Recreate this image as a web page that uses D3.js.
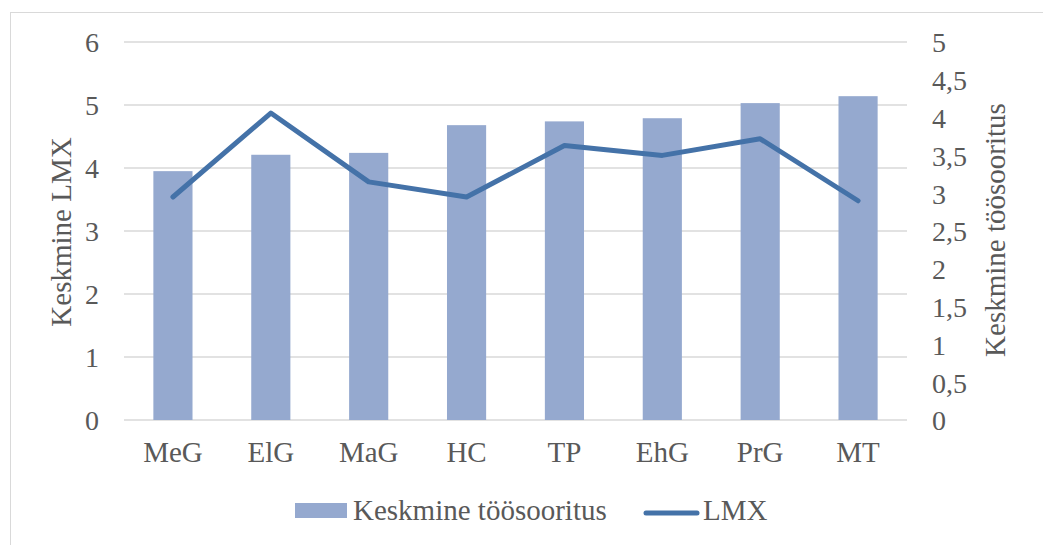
<!DOCTYPE html>
<html>
<head>
<meta charset="utf-8">
<script src="https://cdn.jsdelivr.net/npm/d3@7"></script>
<style>
  body { margin: 0; background: #fff; }
</style>
</head>
<body>
<div id="chart"></div>
<script>
'use strict';

var categories = ['MeG', 'ElG', 'MaG', 'HC', 'TP', 'EhG', 'PrG', 'MT'];
var performance = [3.95, 4.21, 4.24, 4.68, 4.74, 4.79, 5.03, 5.14];   // bars, left axis
var lmx = [2.95, 4.06, 3.15, 2.95, 3.63, 3.50, 3.72, 2.90];          // line, right axis
var leftTicks = [0, 1, 2, 3, 4, 5, 6];
var rightTicks = [0, 0.5, 1, 1.5, 2, 2.5, 3, 3.5, 4, 4.5, 5];

var FONT = '"Liberation Serif", "Times New Roman", serif';
var TEXT_COLOR = '#595959';

var width = 1043, height = 545;
var margin = {top: 42, right: 136, bottom: 125, left: 124};

var svg = d3.select('#chart').append('svg')
    .attr('width', width)
    .attr('height', height);

// chart area border
svg.append('rect')
  .attr('x', 10.5).attr('y', 12.5)
  .attr('width', width + 20).attr('height', height + 20)
  .attr('fill', 'none')
  .attr('stroke', '#d9d9d9')
  .attr('stroke-width', 1);

var x = d3.scaleBand()
  .domain(categories)
  .range([margin.left, width - margin.right])
  .paddingInner(0.6)
  .paddingOuter(0.3);

var yLeft = d3.scaleLinear().domain([0, 6]).range([height - margin.bottom, margin.top]);
var yRight = d3.scaleLinear().domain([0, 5]).range([height - margin.bottom, margin.top]);

var x0 = x.range()[0], x1 = x.range()[1];

// gridlines
svg.append('g')
  .selectAll('line')
  .data(leftTicks)
  .enter()
  .append('line')
  .attr('x1', x0).attr('x2', x1)
  .attr('y1', function(d) { return yLeft(d); })
  .attr('y2', function(d) { return yLeft(d); })
  .attr('stroke', '#d9d9d9')
  .attr('stroke-width', 1.6);

// bars
svg.append('g')
  .selectAll('rect')
  .data(categories)
  .enter()
  .append('rect')
  .attr('x', function(d) { return x(d); })
  .attr('width', x.bandwidth())
  .attr('y', function(d, i) { return yLeft(performance[i]); })
  .attr('height', function(d, i) { return yLeft(0) - yLeft(performance[i]); })
  .attr('fill', '#95a9cf');

// line
var line = d3.line()
  .x(function(d, i) { return x(categories[i]) + x.bandwidth() / 2; })
  .y(function(d) { return yRight(d); });

svg.append('path')
  .datum(lmx)
  .attr('d', line)
  .attr('fill', 'none')
  .attr('stroke', '#4472a8')
  .attr('stroke-width', 5)
  .attr('stroke-linejoin', 'round')
  .attr('stroke-linecap', 'round');

var fmt = function(d) { return String(d).replace('.', ','); };

function styleAxis(g, size, dy) {
  g.select('.domain').remove();
  g.attr('font-family', FONT).attr('font-size', size);
  g.selectAll('text')
    .attr('fill', TEXT_COLOR)
    .attr('dy', dy);
}

// left axis
var leftAxis = svg.append('g')
  .attr('transform', 'translate(' + (x0 - 25) + ',0)')
  .call(d3.axisLeft(yLeft).tickValues(leftTicks).tickSize(0).tickPadding(0).tickFormat(fmt));
styleAxis(leftAxis, 28, '0.35em');

// right axis
var rightAxis = svg.append('g')
  .attr('transform', 'translate(' + (x1 + 25) + ',0)')
  .call(d3.axisRight(yRight).tickValues(rightTicks).tickSize(0).tickPadding(0).tickFormat(fmt));
styleAxis(rightAxis, 28, '0.35em');

// category axis
var bottomAxis = svg.append('g')
  .attr('transform', 'translate(0,' + yLeft(0) + ')')
  .call(d3.axisBottom(x).tickSize(0).tickPadding(0));
styleAxis(bottomAxis, 29, '42');

// axis titles
svg.append('text')
  .attr('transform', 'translate(71,232) rotate(-90)')
  .attr('text-anchor', 'middle')
  .attr('font-family', FONT)
  .attr('font-size', 29)
  .attr('fill', TEXT_COLOR)
  .text('Keskmine LMX');

svg.append('text')
  .attr('transform', 'translate(1005,230) rotate(-90)')
  .attr('text-anchor', 'middle')
  .attr('font-family', FONT)
  .attr('font-size', 29)
  .attr('fill', TEXT_COLOR)
  .text('Keskmine töösooritus');

// legend
var legend = svg.append('g')
  .attr('font-family', FONT)
  .attr('font-size', 29)
  .attr('fill', TEXT_COLOR);
legend.append('rect')
  .attr('x', 295).attr('y', 503)
  .attr('width', 52).attr('height', 15)
  .attr('fill', '#95a9cf');
legend.append('text')
  .attr('x', 353).attr('y', 520)
  .text('Keskmine töösooritus');
legend.append('line')
  .attr('x1', 646).attr('x2', 697)
  .attr('y1', 513).attr('y2', 513)
  .attr('stroke', '#4472a8')
  .attr('stroke-width', 5)
  .attr('stroke-linecap', 'round');
legend.append('text')
  .attr('x', 703).attr('y', 520)
  .text('LMX');
</script>
</body>
</html>
